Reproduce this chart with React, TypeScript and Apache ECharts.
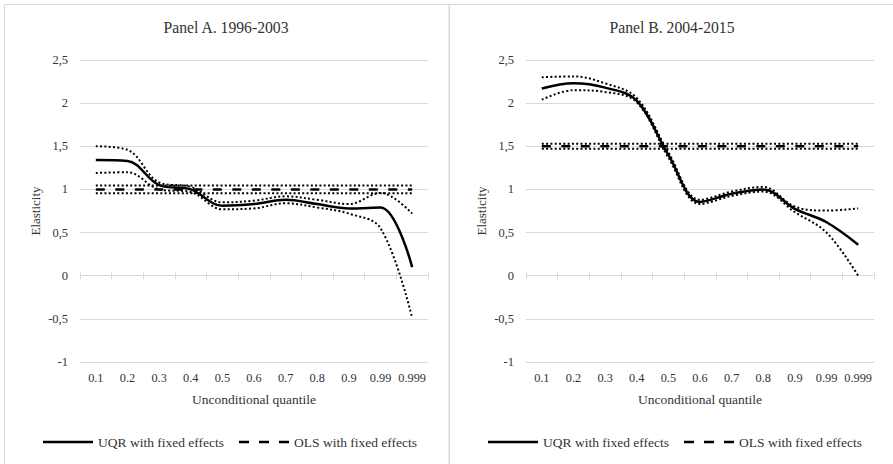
import React, { useEffect, useRef } from "react";
import * as echarts from "echarts";

const FONT = "Liberation Serif";
const TEXT = "#333333";
const GRID_LINE = "#d9d9d9";

const quantiles = ["0.1", "0.2", "0.3", "0.4", "0.5", "0.6", "0.7", "0.8", "0.9", "0.99", "0.999"];
const yTicks = [-1, -0.5, 0, 0.5, 1, 1.5, 2, 2.5];
const yTickLabels = ["-1", "-0,5", "0", "0,5", "1", "1,5", "2", "2,5"];

// Panel A. 1996-2003
const uqrA = [1.34, 1.33, 1.05, 1.0, 0.81, 0.83, 0.88, 0.83, 0.78, 0.79, 0.1];
const uqrUpperA = [1.5, 1.46, 1.08, 1.03, 0.85, 0.87, 0.92, 0.88, 0.83, 0.96, 0.72];
const uqrLowerA = [1.19, 1.2, 1.0, 0.97, 0.77, 0.78, 0.84, 0.79, 0.72, 0.55, -0.49];
const olsA = [1.0, 1.0, 1.0, 1.0, 1.0, 1.0, 1.0, 1.0, 1.0, 1.0, 1.0];
const olsUpperA = [1.045, 1.045, 1.045, 1.045, 1.045, 1.045, 1.045, 1.045, 1.045, 1.045, 1.045];
const olsLowerA = [0.955, 0.955, 0.955, 0.955, 0.955, 0.955, 0.955, 0.955, 0.955, 0.955, 0.955];

// Panel B. 2004-2015
const uqrB = [2.17, 2.23, 2.18, 2.03, 1.4, 0.855, 0.95, 1.0, 0.775, 0.62, 0.36];
const uqrUpperB = [2.3, 2.31, 2.23, 2.06, 1.43, 0.88, 0.975, 1.03, 0.8, 0.755, 0.78];
const uqrLowerB = [2.04, 2.15, 2.13, 2.01, 1.37, 0.83, 0.925, 0.975, 0.736, 0.5, 0.0];
const olsB = [1.5, 1.5, 1.5, 1.5, 1.5, 1.5, 1.5, 1.5, 1.5, 1.5, 1.5];
const olsUpperB = [1.53, 1.53, 1.53, 1.53, 1.53, 1.53, 1.53, 1.53, 1.53, 1.53, 1.53];
const olsLowerB = [1.47, 1.47, 1.47, 1.47, 1.47, 1.47, 1.47, 1.47, 1.47, 1.47, 1.47];

const UQR_NAME = "UQR with fixed effects";
const OLS_NAME = "OLS with fixed effects";
const Y_NAME = "Elasticity";
const X_NAME = "Unconditional quantile";

type Panel = {
  title: string;
  uqr: number[];
  uqrUpper: number[];
  uqrLower: number[];
  ols: number[];
  olsUpper: number[];
  olsLower: number[];
};

const panels: Panel[] = [
  { title: "Panel A. 1996-2003", uqr: uqrA, uqrUpper: uqrUpperA, uqrLower: uqrLowerA, ols: olsA, olsUpper: olsUpperA, olsLower: olsLowerA },
  { title: "Panel B. 2004-2015", uqr: uqrB, uqrUpper: uqrUpperB, uqrLower: uqrLowerB, ols: olsB, olsUpper: olsUpperB, olsLower: olsLowerB },
];

// layout of the two framed panels
const GRID_TOP = 60;
const GRID_BOTTOM = 102;
const frames = [
  { x: 4.5, width: 444.5, gridLeft: 80, gridRight: 465, titleX: 226, legendLeft: 43 },
  { x: 449.5, width: 450, gridLeft: 526, gridRight: 19, titleX: 672, legendLeft: 488 },
];

const text = (x: number, y: number, str: string, size: number, align: string, extra: any = {}) => ({
  type: "text",
  x,
  y,
  silent: true,
  ...extra,
  style: { text: str, fontFamily: FONT, fontSize: size, fill: TEXT, align, verticalAlign: "middle" },
});

function buildOption() {
  const grid: any[] = [];
  const xAxis: any[] = [];
  const yAxis: any[] = [];
  const series: any[] = [];

  panels.forEach((p, i) => {
    const f = frames[i];
    grid.push({ left: f.gridLeft, right: f.gridRight, top: GRID_TOP, bottom: GRID_BOTTOM, containLabel: false });

    yAxis.push({
      type: "value",
      gridIndex: i,
      min: -1,
      max: 2.5,
      interval: 0.5,
      axisLine: { show: false },
      axisTick: { show: false },
      axisLabel: { show: false },
      splitLine: { lineStyle: { color: GRID_LINE, width: 1 } },
    });

    // category axis the series are plotted on
    const labelAxisIndex = xAxis.length;
    xAxis.push({
      type: "category",
      gridIndex: i,
      data: quantiles,
      position: "bottom",
      boundaryGap: true,
      axisLine: { show: false, onZero: false },
      axisTick: { show: false },
      axisLabel: { show: false },
      splitLine: { show: false },
    });
    // horizontal axis line at zero with ticks crossing it
    ["bottom", "top"].forEach((pos) => {
      xAxis.push({
        type: "category",
        gridIndex: i,
        data: quantiles,
        position: pos,
        boundaryGap: true,
        axisLine: { show: true, onZero: true, onZeroAxisIndex: i, lineStyle: { color: GRID_LINE, width: 1 } },
        axisTick: { show: true, length: 3.5, interval: 0, lineStyle: { color: GRID_LINE, width: 1 } },
        axisLabel: { show: false },
        splitLine: { show: false },
      });
    });

    const base = {
      type: "line",
      xAxisIndex: labelAxisIndex,
      yAxisIndex: i,
      symbol: "none",
      showSymbol: false,
      smooth: 0.36,
      emphasis: { disabled: true },
      silent: true,
    };
    const dotted = { color: "#000", width: 2, type: [2, 2.3], cap: "butt" };

    series.push(
      { ...base, name: "OLS upper bound", data: p.olsUpper, smooth: false, lineStyle: dotted, z: 2 },
      { ...base, name: "OLS lower bound", data: p.olsLower, smooth: false, lineStyle: dotted, z: 2 },
      {
        ...base,
        name: OLS_NAME,
        data: p.ols,
        smooth: false,
        lineStyle: { color: "#000", width: 2.5, type: [9, 10.5], cap: "butt" },
        z: 3,
      },
      { ...base, name: "UQR upper bound", data: p.uqrUpper, lineStyle: dotted, z: 4 },
      { ...base, name: "UQR lower bound", data: p.uqrLower, lineStyle: dotted, z: 4 },
      {
        ...base,
        name: UQR_NAME,
        data: p.uqr,
        lineStyle: { color: "#000", width: 2.5, type: "solid" },
        z: 5,
      }
    );
  });

  return {
    animation: false,
    backgroundColor: "#ffffff",
    grid,
    xAxis,
    yAxis,
    series,
  };
}

// frames, titles, tick labels, axis names and legend keys, placed with the chart's own scales
function buildGraphic(chart: echarts.ECharts) {
  const els: any[] = [];
  panels.forEach((p, i) => {
    const f = frames[i];
    const xIdx = i * 3;
    els.push({
      type: "rect",
      shape: { x: f.x, y: 4.5, width: f.width, height: 480 },
      style: { fill: "none", stroke: GRID_LINE, lineWidth: 1 },
      silent: true,
      z: -10,
    });
    els.push(text(f.titleX, 27, p.title, 15.7, "center"));

    yTicks.forEach((v, k) => {
      const y = chart.convertToPixel({ yAxisIndex: i } as any, v) as unknown as number;
      els.push(text(f.gridLeft - 12, y, yTickLabels[k], 12.5, "right"));
    });
    quantiles.forEach((q) => {
      const x = chart.convertToPixel({ xAxisIndex: xIdx } as any, q) as unknown as number;
      els.push(text(x, 378, q, 12.3, "center"));
    });

    const yTop = chart.convertToPixel({ yAxisIndex: i } as any, 2.5) as unknown as number;
    const yBot = chart.convertToPixel({ yAxisIndex: i } as any, -1) as unknown as number;
    const xFirst = chart.convertToPixel({ xAxisIndex: xIdx } as any, quantiles[0]) as unknown as number;
    const xLast = chart.convertToPixel({ xAxisIndex: xIdx } as any, quantiles[quantiles.length - 1]) as unknown as number;
    els.push(text(f.gridLeft - 45, (yTop + yBot) / 2, Y_NAME, 13, "center", { rotation: Math.PI / 2 }));
    els.push(text((xFirst + xLast) / 2, 399, X_NAME, 13.5, "center"));

    // legend
    const lx = f.legendLeft;
    const ly = 442;
    els.push({
      type: "line",
      shape: { x1: lx, y1: ly, x2: lx + 50, y2: ly },
      style: { stroke: "#000", lineWidth: 2.5 },
      silent: true,
    });
    els.push(text(lx + 55, ly, UQR_NAME, 13.5, "left"));
    els.push({
      type: "line",
      shape: { x1: lx + 196, y1: ly, x2: lx + 246, y2: ly },
      style: { stroke: "#000", lineWidth: 2.5, lineDash: [10, 10] },
      silent: true,
    });
    els.push(text(lx + 251, ly, OLS_NAME, 13.5, "left"));
  });
  return els;
}

export default function App() {
  const ref = useRef<HTMLDivElement>(null);

  useEffect(() => {
    if (!ref.current) return;
    const chart = echarts.init(ref.current, undefined, { renderer: "svg" });
    chart.setOption(buildOption() as any);
    chart.setOption({ graphic: buildGraphic(chart) } as any);
    return () => chart.dispose();
  }, []);

  return (
    <div
      ref={ref}
      style={{ position: "absolute", left: 0, top: 0, width: 893, height: 464, background: "#fff" }}
    />
  );
}
